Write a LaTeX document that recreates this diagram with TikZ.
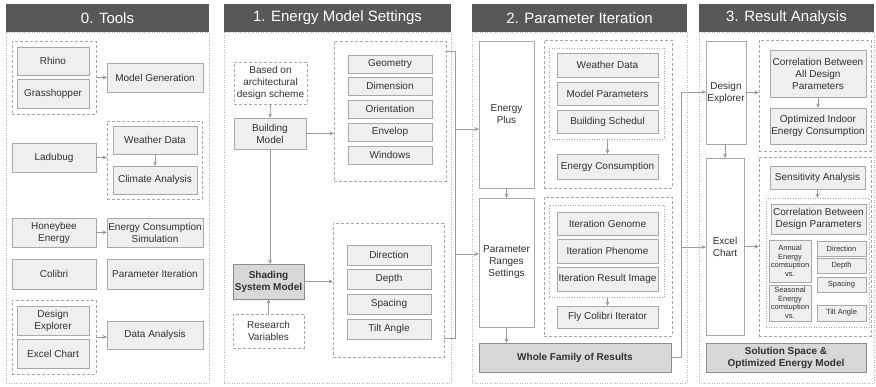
\documentclass[tikz,border=0pt]{standalone}
\usepackage{fontspec}
\setmainfont{Liberation Sans}
\usetikzlibrary{arrows.meta}
\definecolor{hdrc}{HTML}{585858}
\definecolor{bxf}{HTML}{EFEFEF}
\definecolor{bxd}{HTML}{A8A8A8}
\definecolor{drk}{HTML}{D8D8D8}
\definecolor{lnc}{HTML}{9A9A9A}
\definecolor{txt}{HTML}{303030}
\newcommand\bx[7]{\node[#1, minimum width={#4-#2}, minimum height={#5-#3}] (#6) at ({(#2+#4)/2},{(#3+#5)/2}) {#7};}
\begin{document}
\begin{tikzpicture}[x=1pt,y=-1pt,
  every node/.style={inner sep=0pt, outer sep=0pt, align=center, text=txt},
  box/.style={draw=bxd, fill=bxf, line width=0.7pt, font=\fontsize{10}{12}\selectfont},
  sbox/.style={box, font=\fontsize{7.5}{8.6}\selectfont},
  wbox/.style={box, fill=white},
  dbox/.style={box, fill=drk, draw=black!45, font=\fontsize{10}{12}\selectfont\bfseries},
  grp/.style={draw=bxd, dash pattern=on 3pt off 2pt, line width=0.8pt, font=\fontsize{10}{12}\selectfont},
  dgrp/.style={draw=bxd, dash pattern=on 1pt off 1.5pt, line width=0.8pt},
  frame/.style={draw=black!28, dash pattern=on 1pt off 1.5pt, line width=0.7pt},
  hdr/.style={fill=hdrc, text=white, font=\fontsize{15}{17}\selectfont},
  arr/.style={draw=lnc, line width=0.8pt, -{Stealth[length=4.5pt,width=4pt]}},
  conn/.style={draw=lnc, line width=0.8pt}]
\useasboundingbox (0,0) rectangle (876,386);
% headers and frames
\bx{frame}{6}{32}{209}{383}{f0}{}
\bx{frame}{224}{32}{451}{383}{f1}{}
\bx{frame}{472}{32}{687}{383}{f2}{}
\bx{frame}{699}{32}{874}{383}{f3}{}
\bx{hdr}{6}{4}{209}{32}{h0}{0. Tools}
\bx{hdr}{224}{4}{451}{32}{h1}{1. Energy Model Settings}
\bx{hdr}{472}{4}{687}{32}{h2}{2. Parameter Iteration}
\bx{hdr}{699}{4}{874}{32}{h3}{3. Result Analysis}
% column 0
\bx{grp}{12}{41}{96}{114}{g01}{}
\bx{box}{17}{47}{89}{75}{rhino}{Rhino}
\bx{box}{17}{79}{89}{108}{gh}{Grasshopper}
\bx{box}{107}{63}{203}{92}{mg}{Model Generation}
\bx{grp}{107}{121}{202}{199}{g02}{}
\bx{box}{113}{126}{197}{154}{wd0}{Weather Data}
\bx{box}{113}{166}{197}{194}{ca}{Climate Analysis}
\bx{box}{12}{143}{96}{172}{lad}{Ladubug}
\bx{box}{12}{218}{96}{247}{hb}{Honeybee\\Energy}
\bx{box}{107}{218}{203}{247}{ecs}{Energy Consumption\\Simulation}
\bx{box}{12}{259}{96}{289}{col}{Colibri}
\bx{box}{107}{259}{203}{289}{pi}{Parameter Iteration}
\bx{grp}{12}{300}{96}{374}{g03}{}
\bx{box}{17}{306}{89}{335}{de0}{Design\\Explorer}
\bx{box}{17}{339}{89}{368}{xc0}{Excel Chart}
\bx{box}{107}{321}{203}{349}{da}{Data Analysis}
\draw[arr] (g01.east) -- (mg.west);
\draw[arr] (wd0.south) -- (ca.north);
\draw[arr] (lad.east) -- (lad.east -| g02.west);
\draw[arr] (hb.east) -- (ecs.west);
\draw[arr] (g03.east) -- (g03.east -| da.west);
% column 1
\bx{grp}{234}{62}{307}{104}{bas}{Based on\\architectural\\design scheme}
\bx{box}{234}{118}{306}{149}{bm}{Building\\Model}
\bx{dbox}{233}{264}{304}{299}{ssm}{Shading\\System Model}
\bx{grp}{233}{314}{304}{348}{rv}{Research\\Variables}
\bx{grp}{334}{41}{446}{181}{g11}{}
\bx{box}{348}{55}{432}{73}{geo}{Geometry}
\bx{box}{348}{77}{432}{95}{dim}{Dimension}
\bx{box}{348}{100}{432}{118}{ori}{Orientation}
\bx{box}{348}{123}{432}{141}{env}{Envelop}
\bx{box}{348}{146}{432}{164}{win}{Windows}
\bx{grp}{333}{223}{444}{357}{g12}{}
\bx{box}{347}{245}{431}{265}{dir1}{Direction}
\bx{box}{347}{269}{431}{289}{dep1}{Depth}
\bx{box}{347}{294}{431}{314}{spa1}{Spacing}
\bx{box}{347}{319}{431}{339}{tilt1}{Tilt Angle}
\draw[arr] (bas.south) -- (bm.north);
\draw[arr] (bm.east) -- (bm.east -| g11.west);
\draw[arr] (bm.south) -- (bm.south |- ssm.north);
\draw[arr] (rv.north) -- (rv.north |- ssm.south);
\draw[arr] (ssm.east) -- (ssm.east -| g12.west);
\coordinate (bt) at (455,51);
\coordinate (bb) at (455,338);
\coordinate (a1) at (455,129);
\coordinate (a2) at (455,254);
% column 2
\bx{wbox}{479}{41}{534}{188}{ep}{Energy\\Plus}
\bx{grp}{544}{40}{672}{188}{g21}{}
\bx{dgrp}{549}{48}{664}{139}{d21}{}
\bx{box}{557}{53}{658}{77}{wd}{Weather Data}
\bx{box}{557}{82}{658}{105}{mp}{Model Parameters}
\bx{box}{557}{110}{658}{133}{bs}{Building Schedul}
\bx{box}{557}{154}{658}{179}{ec}{Energy Consumption}
\bx{wbox}{479}{198}{534}{327}{prs}{Parameter\\Ranges\\Settings}
\bx{grp}{544}{197}{672}{336}{g22}{}
\bx{dgrp}{549}{205}{664}{297}{d22}{}
\bx{box}{557}{212}{658}{235}{ig}{Iteration Genome}
\bx{box}{557}{239}{658}{263}{ip}{Iteration Phenome}
\bx{box}{557}{267}{658}{291}{iri}{Iteration Result Image}
\bx{box}{557}{306}{658}{328}{fci}{Fly Colibri Iterator}
\bx{dbox}{479}{343}{671}{372}{wfr}{Whole Family of Results}
\draw[conn] (bt -| g11.east) -- (bt) -- (bb) -- (bb -| g12.east);
\draw[arr] (a1) -- (a1 -| ep.west);
\draw[arr] (a2) -- (a2 -| prs.west);
\draw[arr] (d21.south -| ec.north) -- (ec.north);
\draw[arr] (d22.south -| fci.north) -- (fci.north);
\draw[arr] (ep.south -| prs.north) -- (prs.north);
\draw[arr] (prs.south) -- (prs.south |- wfr.north);
% column 3
\bx{wbox}{706}{41}{746}{144}{de}{Design\\Explorer}
\bx{grp}{759}{40}{871}{151}{g31}{}
\bx{box}{770}{50}{866}{97}{cb}{Correlation Between\\All Design\\Parameters}
\bx{box}{770}{108}{866}{144}{oi}{Optimized Indoor\\Energy Consumption}
\bx{wbox}{706}{158}{744}{335}{xc}{Excel\\Chart}
\bx{grp}{759}{157}{871}{336}{g32}{}
\bx{box}{770}{166}{865}{189}{sa}{Sensitivity Analysis}
\bx{dgrp}{766}{198}{869}{327}{d31}{}
\bx{box}{771}{204}{866}{234}{cbd}{Correlation Between\\Design Parameters}
\bx{sbox}{769}{240}{811}{282}{ann}{Annual\\Energy\\comsuption\\vs.}
\bx{sbox}{769}{285}{811}{321}{sea}{Seasonal\\Energy\\comsuption\\vs.}
\bx{sbox}{817}{241}{866}{256}{dir3}{Direction}
\bx{sbox}{817}{258}{866}{273}{dep3}{Depth}
\bx{sbox}{817}{277}{866}{292}{spa3}{Spacing}
\bx{sbox}{817}{305}{866}{321}{tilt3}{Tilt Angle}
\bx{dbox}{706}{343}{866}{372}{ss}{Solution Space \&\\Optimized Energy Model}
\coordinate (c1) at (681,92);
\coordinate (c2) at (681,247);
\draw[arr] (wfr.east) -| (c1) -- (c1 -| de.west);
\draw[arr] (c2) -- (c2 -| xc.west);
\draw[arr] (de.east) -- (de.east -| g31.west);
\draw[arr] (cb.south) -- (oi.north);
\draw[arr] (de.south -| xc.north) -- (xc.north);
\draw[arr] (xc.east) -- (xc.east -| g32.west);
\draw[arr] (sa.south) -- (sa.south |- d31.north);
\end{tikzpicture}
\end{document}
